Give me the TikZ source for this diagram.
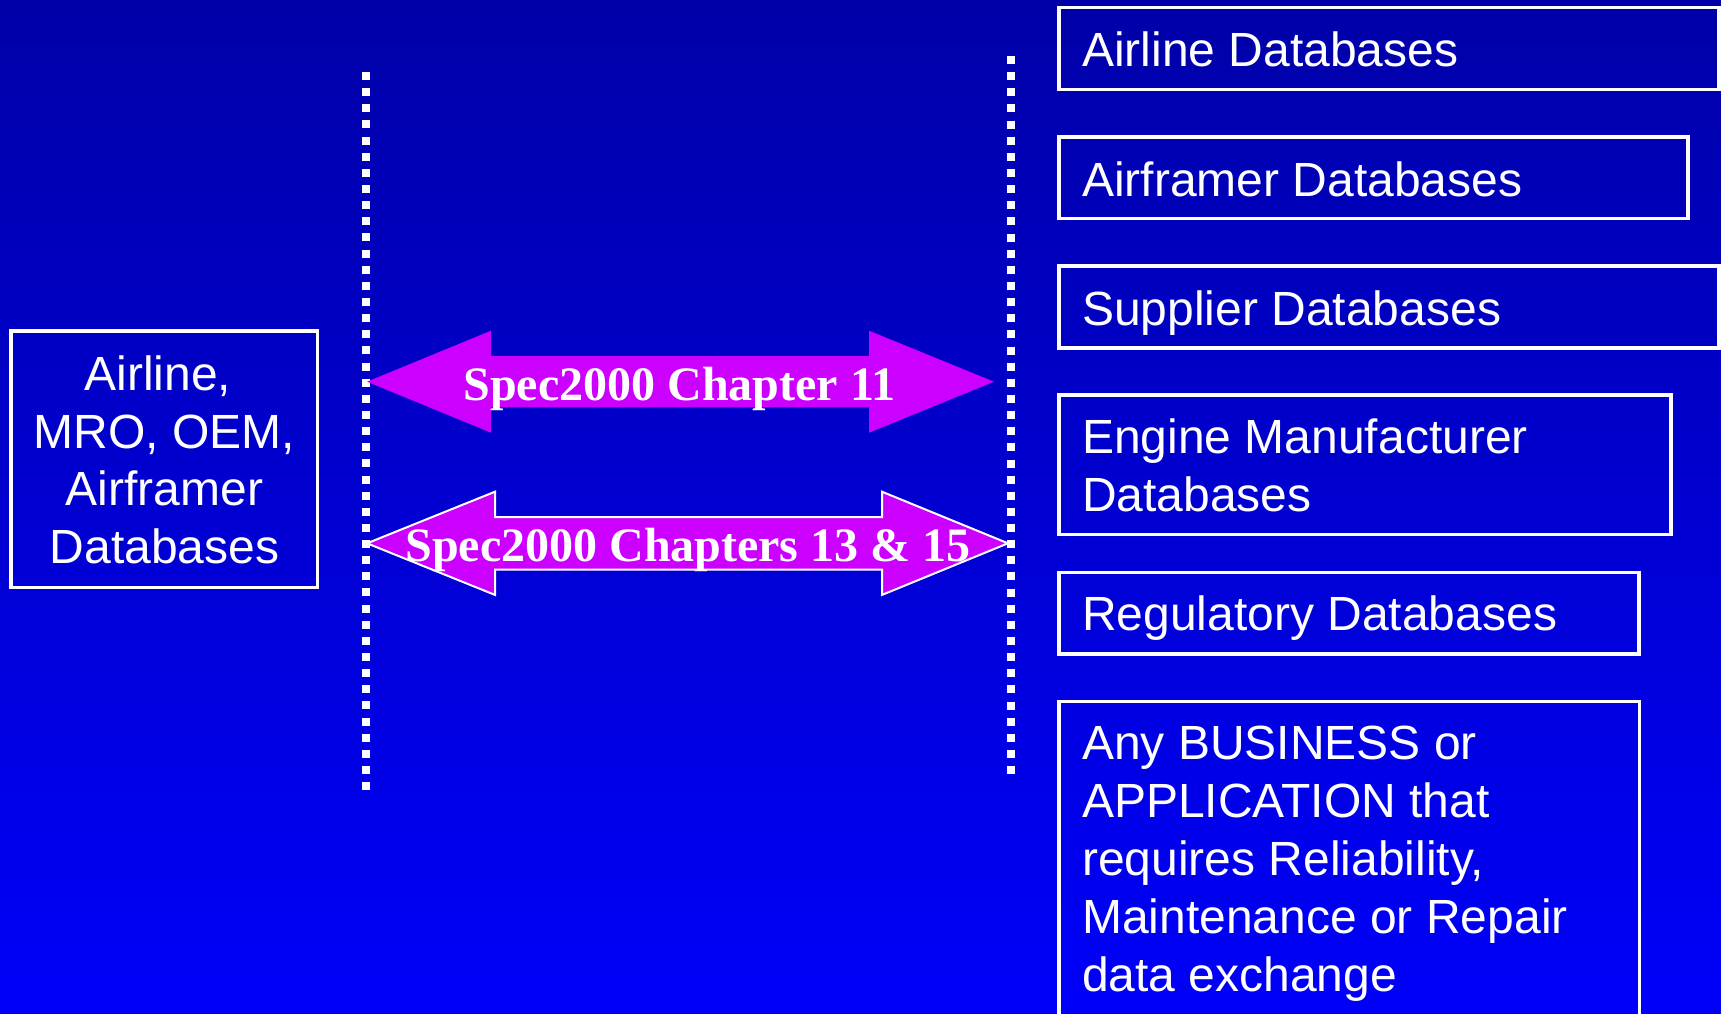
\documentclass[tikz,border=0pt]{standalone}
\usepackage{fontspec}
\setmainfont{Liberation Sans}
\newfontfamily\serifbold{Liberation Serif}[BoldFont={Liberation Serif Bold}]
\usetikzlibrary{calc}
\definecolor{bgtop}{HTML}{0000A8}
\definecolor{bgbot}{HTML}{0000FA}
\definecolor{arrowmag}{HTML}{CC00FF}
\tikzset{
  dbbox/.style={draw=white, line width=3.4pt, rectangle, inner sep=0pt, outer sep=0pt, anchor=north west},
  dbtext/.style={text=white, font=\fontsize{48}{58}\selectfont, inner sep=0pt, align=left, anchor=base west},
  srctext/.style={text=white, font=\fontsize{48}{57.5}\selectfont, inner sep=0pt, align=center, anchor=base},
  spectext/.style={text=white, font=\serifbold\bfseries\fontsize{48}{58}\selectfont, inner sep=0pt, anchor=base},
  dotline/.style={draw=white, line width=8.5pt, dash pattern=on 8pt off 8.14pt},
  blockarrow/.style={fill=arrowmag},
}
\begin{document}
\begin{tikzpicture}[x=1pt,y=-1pt]
\shade[top color=bgtop, bottom color=bgbot] (0,0) rectangle (1721,1013);
\useasboundingbox (0,0) rectangle (1721,1013);

% dotted separators
\coordinate (lt) at (366,72);
\coordinate (lb) at (366,790);
\coordinate (rt) at (1010.8,56);
\coordinate (rb) at (1010.8,774);
\draw[dotline] (lt) -- (lb);
\draw[dotline] (rt) -- (rb);

% left box (multi-line texts: base anchor = last line's baseline)
\node[dbbox, minimum width=306.7pt, minimum height=256.7pt] (src) at (11,331) {};
\node[srctext] (srct) at (164.4,563.3) {Airline,\hphantom{\ }\\MRO, OEM,\\Airframer\\Databases};

% right boxes
\node[dbbox, minimum width=660pt, minimum height=81.6pt] (airline) at (1059,7.7) {};
\node[dbtext] (airlinet) at (1082,66.7) {Airline Databases};

\node[dbbox, minimum width=629pt, minimum height=81.7pt] (airframer) at (1059,137) {};
\node[dbtext] (airframert) at (1082,196.7) {Airframer Databases};

\node[dbbox, minimum width=660pt, minimum height=82pt] (supplier) at (1059,266) {};
\node[dbtext] (suppliert) at (1082,325) {Supplier Databases};

\node[dbbox, minimum width=612pt, minimum height=139.5pt] (engine) at (1059,395) {};
\node[dbtext] (enginet) at (1082,511.7) {Engine Manufacturer\\Databases};

\node[dbbox, minimum width=580pt, minimum height=81.5pt] (regulatory) at (1059,572.5) {};
\node[dbtext] (regulatoryt) at (1082,630.7) {Regulatory Databases};

\node[dbbox, minimum width=580.5pt, minimum height=330pt] (any) at (1059,701.5) {};
\node[dbtext] (anyt) at (1082,991.7) {Any BUSINESS or\\APPLICATION that\\requires Reliability,\\Maintenance or Repair\\data exchange};

% arrow 1: Chapter 11
\coordinate (a1l) at (367,381.7);
\coordinate (a1r) at (994,381.7);
\fill[blockarrow] (a1l) -- ($(a1l)+(124,-51)$) -- ($(a1l)+(124,-25.7)$)
  -- ($(a1r)+(-125,-25.7)$) -- ($(a1r)+(-125,-51)$) -- (a1r)
  -- ($(a1r)+(-125,51)$) -- ($(a1r)+(-125,25.7)$) -- ($(a1l)+(124,25.7)$)
  -- ($(a1l)+(124,51)$) -- cycle;
\node[spectext] (ch11) at (679.5,400.5) {Spec2000 Chapter 11};

% arrow 2: Chapters 13 & 15
\coordinate (a2l) at (367,543.3);
\coordinate (a2r) at (1008,543.3);
\filldraw[blockarrow, draw=white, line width=2pt, line join=miter] (a2l) -- ($(a2l)+(128,-51.6)$) -- ($(a2l)+(128,-26.3)$)
  -- ($(a2r)+(-126,-26.3)$) -- ($(a2r)+(-126,-51.6)$) -- (a2r)
  -- ($(a2r)+(-126,51.6)$) -- ($(a2r)+(-126,26.3)$) -- ($(a2l)+(128,26.3)$)
  -- ($(a2l)+(128,51.6)$) -- cycle;
\node[spectext] (ch1315) at (688,561.7) {Spec2000 Chapters 13 \& 15};
\end{tikzpicture}
\end{document}
